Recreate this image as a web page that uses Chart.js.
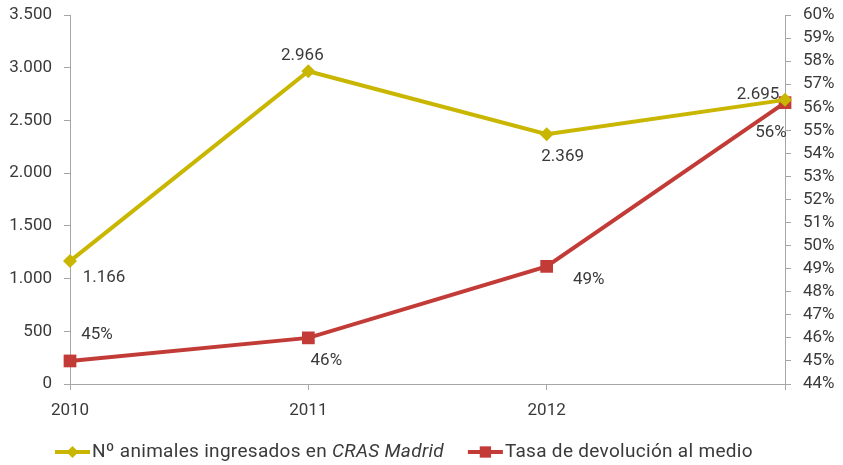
<!DOCTYPE html>
<html>
<head>
<meta charset="utf-8">
<script src="https://cdn.jsdelivr.net/npm/chart.js@4.4.1/dist/chart.umd.min.js"></script>
<style>
  html, body { margin: 0; padding: 0; background: #fff; }
  #wrap { width: 843px; height: 465px; position: relative; }
</style>
</head>
<body>
<div id="wrap"><canvas id="grafico"></canvas></div>
<script>
// datos
var anios = ['2010', '2011', '2012', ''];
var animalesIngresados = [1166, 2966, 2369, 2695];
var tasaDevolucion = [45, 46, 49.1, 56.2];
var ticksIzq = [0, 500, 1000, 1500, 2000, 2500, 3000, 3500];
var ticksDer = [44, 45, 46, 47, 48, 49, 50, 51, 52, 53, 54, 55, 56, 57, 58, 59, 60];

var amarillo = '#C9B600';
var rojo = '#C23B37';
var gris = '#A6A6A6';
var texto = '#3a3a3a';
var fuente = "'Roboto', sans-serif";

function miles(n) {
    return String(Math.round(n)).replace(/\B(?=(\d{3})+(?!\d))/g, '.');
}

// desplazamiento de cada etiqueta respecto a su punto
var posEtiquetas = [
    [[34, 17], [-6, -16], [16, 23], [-27, -5]],
    [[27, -26], [18, 23], [42, 13], [-14, 30]]
];

var etiquetasPlugin = {
    id: 'etiquetas',
    afterDatasetsDraw: function (chart) {
        var ctx = chart.ctx;
        ctx.save();
        ctx.font = '17px ' + fuente;
        ctx.fillStyle = texto;
        ctx.textAlign = 'center';
        ctx.textBaseline = 'middle';
        chart.data.datasets.forEach(function (ds, d) {
            chart.getDatasetMeta(d).data.forEach(function (pt, i) {
                var txt = d === 0 ? miles(ds.data[i]) : Math.round(ds.data[i]) + '%';
                ctx.fillText(txt, pt.x + posEtiquetas[d][i][0], pt.y + posEtiquetas[d][i][1]);
            });
        });
        ctx.restore();
    }
};

// leyenda propia, con parte del texto en cursiva
var leyendaPlugin = {
    id: 'leyendaPropia',
    afterDraw: function (chart) {
        var ctx = chart.ctx;
        var y = 452;
        var x = 55;
        ctx.save();
        ctx.textBaseline = 'middle';
        ctx.letterSpacing = '0.3px';

        var items = [
            { color: amarillo, estilo: 'rectRot', r: 6, partes: [['Nº animales ingresados en ', ''], ['CRAS Madrid', 'italic ']] },
            { color: rojo, estilo: 'rect', r: 8, partes: [['Tasa de devolución al medio', '']] }
        ];
        items.forEach(function (it) {
            ctx.strokeStyle = it.color;
            ctx.lineWidth = 4;
            ctx.beginPath();
            ctx.moveTo(x, y);
            ctx.lineTo(x + 35, y);
            ctx.stroke();
            ctx.fillStyle = it.color;
            Chart.helpers.drawPoint(ctx, { pointStyle: it.estilo, radius: it.r, borderWidth: 0 }, x + 17.5, y);
            ctx.fillStyle = texto;
            x += 37;
            it.partes.forEach(function (p) {
                ctx.font = p[1] + '19px ' + fuente;
                ctx.fillText(p[0], x, y);
                x += ctx.measureText(p[0]).width;
            });
            x += 24;
        });
        ctx.restore();
    }
};

var ejeY = {
    grid: { display: true, drawOnChartArea: false, color: gris, tickLength: 6 },
    border: { color: gris, width: 1 }
};

// el margen superior lo fija layout.padding, no las etiquetas
function ajusteY(ancho) {
    return function (s) {
        s.width = ancho;
        s.paddingTop = 0;
        s.paddingBottom = 0;
    };
}

new Chart(document.getElementById('grafico'), {
    type: 'line',
    data: {
        labels: anios,
        datasets: [{
            label: 'Nº animales ingresados en CRAS Madrid',
            data: animalesIngresados,
            yAxisID: 'y',
            borderColor: amarillo,
            backgroundColor: amarillo,
            borderWidth: 4,
            pointStyle: 'rectRot',
            pointRadius: 7,
            pointBorderWidth: 0,
            tension: 0
        }, {
            label: 'Tasa de devolución al medio',
            data: tasaDevolucion,
            yAxisID: 'y1',
            borderColor: rojo,
            backgroundColor: rojo,
            borderWidth: 4,
            pointStyle: 'rect',
            pointRadius: 9,
            pointBorderWidth: 0,
            tension: 0
        }]
    },
    options: {
        responsive: true,
        maintainAspectRatio: false,
        animation: false,
        layout: { padding: { top: 15, bottom: 41, left: 0, right: 0 } },
        plugins: {
            legend: { display: false },
            tooltip: { enabled: false }
        },
        scales: {
            x: {
                offset: false,
                grid: { display: true, drawOnChartArea: false, color: gris, tickLength: 6 },
                border: { color: gris, width: 1 },
                ticks: { color: texto, font: { family: fuente, size: 17 }, maxRotation: 0, padding: 11 },
                afterFit: function (s) { s.height = 40; }
            },
            y: Object.assign({}, ejeY, {
                position: 'left',
                min: 0, max: 3500,
                afterBuildTicks: function (s) { s.ticks = ticksIzq.map(function (v) { return { value: v }; }); },
                ticks: { color: texto, font: { family: fuente, size: 17 }, padding: 12, autoSkip: false,
                    callback: function (v) { return miles(v); } },
                afterFit: ajusteY(70)
            }),
            y1: Object.assign({}, ejeY, {
                position: 'right',
                min: 44, max: 60,
                afterBuildTicks: function (s) { s.ticks = ticksDer.map(function (v) { return { value: v }; }); },
                ticks: { color: texto, font: { family: fuente, size: 17 }, padding: 12, autoSkip: false,
                    callback: function (v) { return v + '%'; } },
                afterFit: ajusteY(58)
            })
        }
    },
    plugins: [etiquetasPlugin, leyendaPlugin]
});
</script>
</body>
</html>
